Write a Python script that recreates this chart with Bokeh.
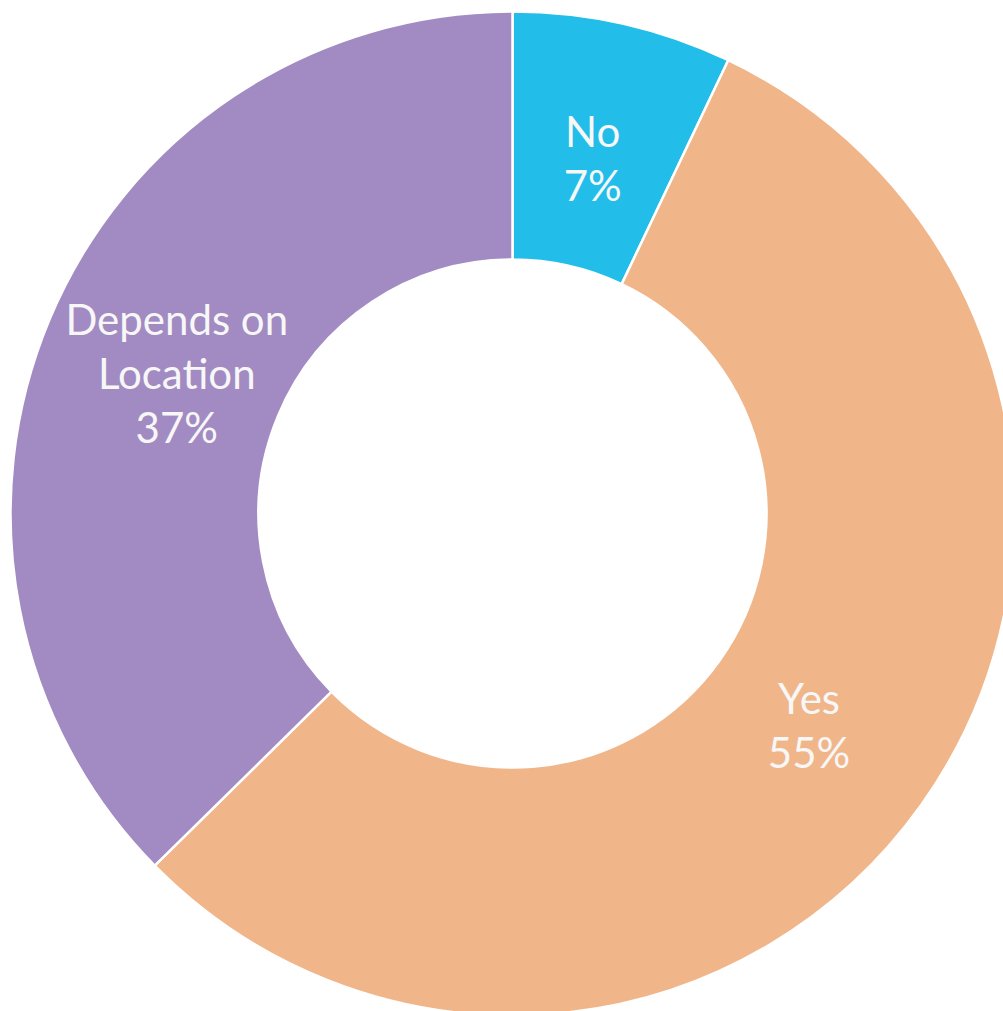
import math
from bokeh.plotting import figure
from bokeh.models import Range1d, ColumnDataSource
from bokeh.core.properties import value
from bokeh.embed import file_html
from bokeh.resources import INLINE

categories = ["No", "Yes", "Depends on\nLocation"]
percents = [7, 55, 37]
colors = ["#22BEE9", "#F0B68A", "#A28BC2"]

W, H = 1003, 1011
cx, cy = 512, 513
R_OUT, R_IN, R_LAB = 502, 254, 364

total = sum(percents)
starts, ends, lx, ly, labels = [], [], [], [], []
cum = 0.0
for cat, v in zip(categories, percents):
    a0 = math.pi / 2 - 2 * math.pi * cum / total
    cum += v
    a1 = math.pi / 2 - 2 * math.pi * cum / total
    starts.append(a0)
    ends.append(a1)
    mid = (a0 + a1) / 2
    lx.append(R_LAB * math.cos(mid))
    ly.append(R_LAB * math.sin(mid))
    labels.append(f"{cat}\n{v}%")

src = ColumnDataSource(dict(start=starts, end=ends, color=colors, lx=lx, ly=ly, label=labels))

p = figure(width=W, height=H, output_backend="svg", toolbar_location=None,
           x_range=Range1d(-cx, W - cx), y_range=Range1d(-(H - cy), cy),
           min_border=0)
p.axis.visible = False
p.grid.visible = False
p.outline_line_color = None
p.background_fill_color = "white"

p.annular_wedge(x=0, y=0, inner_radius=R_IN, outer_radius=R_OUT,
                start_angle="start", end_angle="end", direction="clock",
                fill_color="color", line_color="white", line_width=2.5, source=src)

p.text(x="lx", y="ly", text="label", source=src, text_align="center",
       text_baseline="middle", text_color="#F7F7F7", text_font=value("Lato"),
       text_font_size="42px", text_line_height=1.08)

open("out.html", "w").write(file_html(p, INLINE))
